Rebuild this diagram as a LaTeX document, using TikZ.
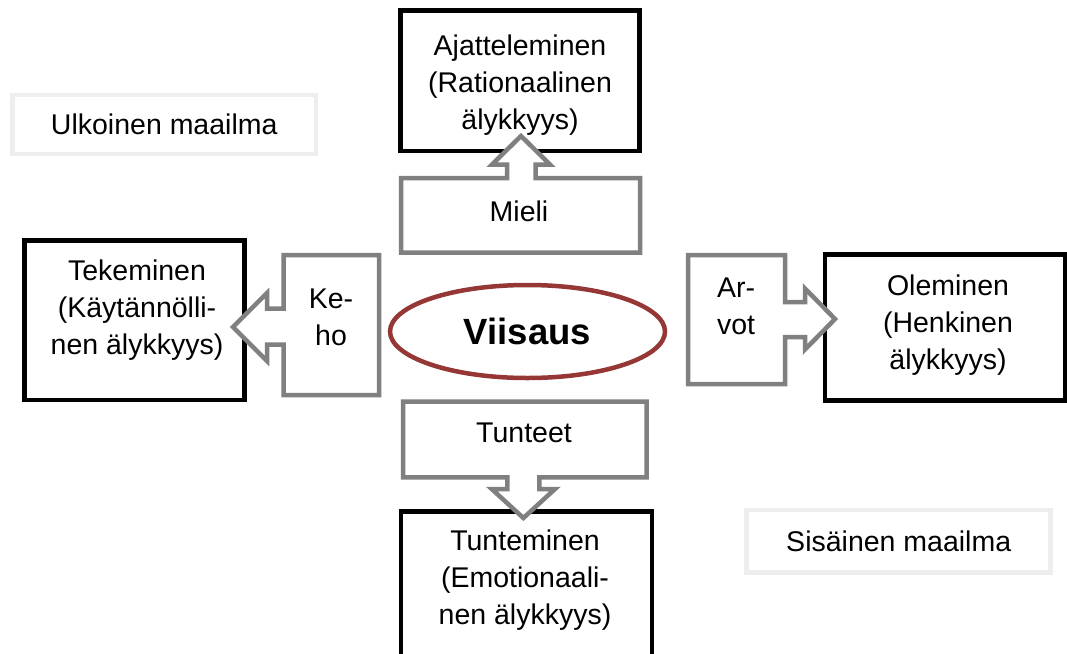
\documentclass[tikz,border=0pt]{standalone}
\usepackage{fontspec}
\setmainfont{Liberation Sans}
\usetikzlibrary{shapes.geometric}
\definecolor{callgray}{HTML}{808080}
\definecolor{lightframe}{HTML}{EEEEEE}
\definecolor{wisdomred}{HTML}{953735}
\tikzset{
  txt/.style={font=\fontsize{28.5}{37}\selectfont, align=center, inner sep=0pt},
  blackbox/.style={draw=black, line width=4.5pt, fill=white, inner sep=0pt, line join=miter},
  callbox/.style={draw=callgray, line width=4.5pt, fill=white, line join=miter},
  lightbox/.style={draw=lightframe, line width=4.5pt, fill=white, inner sep=0pt, font=\fontsize{28.5}{37}\selectfont},
  wisdomstyle/.style={draw=wisdomred, line width=4.5pt, ellipse, inner sep=0pt, font=\fontsize{36.5}{40}\selectfont\bfseries}
}
\begin{document}
\begin{tikzpicture}[x=1pt,y=-1pt]
\useasboundingbox (0,0) rectangle (1067,653);
\clip (0,0) rectangle (1067,653);

% outer/inner world labels
\node[lightbox, minimum width=303.5pt, minimum height=59pt] (outerworld) at (164.25,124.5) {Ulkoinen maailma};
\node[lightbox, minimum width=304pt, minimum height=62.7pt] (innerworld) at (898.7,541.3) {Sisäinen maailma};

% black boxes
\node[blackbox, minimum width=239pt, minimum height=140.5pt] (thinkbox) at (520,80.75) {};
\node[blackbox, minimum width=220pt, minimum height=159.5pt] (dobox) at (134.5,320.25) {};
\node[blackbox, minimum width=240pt, minimum height=146pt] (bebox) at (945,327.5) {};
\node[blackbox, minimum width=251pt, minimum height=180pt] (feelbox) at (526.5,601.5) {};

\node[txt] (think) at (520,85) {Ajatteleminen\\(Rationaalinen\\älykkyys)};
\node[txt] (do) at (137,310) {Tekeminen\\(Käytännölli-\\nen älykkyys)};
\node[txt] (be) at (948,325) {Oleminen\\(Henkinen\\älykkyys)};
\node[txt] (feel) at (525,580) {Tunteminen\\(Emotionaali-\\nen älykkyys)};

% callouts
\draw[callbox] (401,178) -- (507,178) -- (507,164.5) -- (492,164.5) -- (521,136)
  -- (550,164.5) -- (535.5,164.5) -- (535.5,178) -- (640,178) -- (640,252.5)
  -- (401,252.5) -- cycle;
\node[txt] (mind) at (519,211) {Mieli};

\draw[callbox] (283.5,255) -- (379,255) -- (379,395) -- (283.5,395) -- (283.5,344.7)
  -- (267,344.7) -- (267,361) -- (233,327) -- (267,293) -- (267,308.5)
  -- (283.5,308.5) -- cycle;
\node[txt] (body) at (331,317) {Ke-\\ho};

\draw[callbox] (688,255) -- (785,255) -- (785,302) -- (805,302) -- (805,288.5)
  -- (835,319) -- (805,349.5) -- (805,337) -- (785,337) -- (785,384)
  -- (688,384) -- cycle;
\node[txt] (values) at (736,306) {Ar-\\vot};

\draw[callbox] (403,401.7) -- (646.7,401.7) -- (646.7,477.3) -- (539.3,477.3)
  -- (539.3,489) -- (555,489) -- (523.4,518) -- (491.7,489) -- (507.3,489)
  -- (507.3,477.3) -- (403,477.3) -- cycle;
\node[txt] (emotions) at (524,433) {Tunteet};

% centre
\node[wisdomstyle, minimum width=275pt, minimum height=93pt] (wisdom) at (527.5,331.5) {Viisaus};
\end{tikzpicture}
\end{document}
